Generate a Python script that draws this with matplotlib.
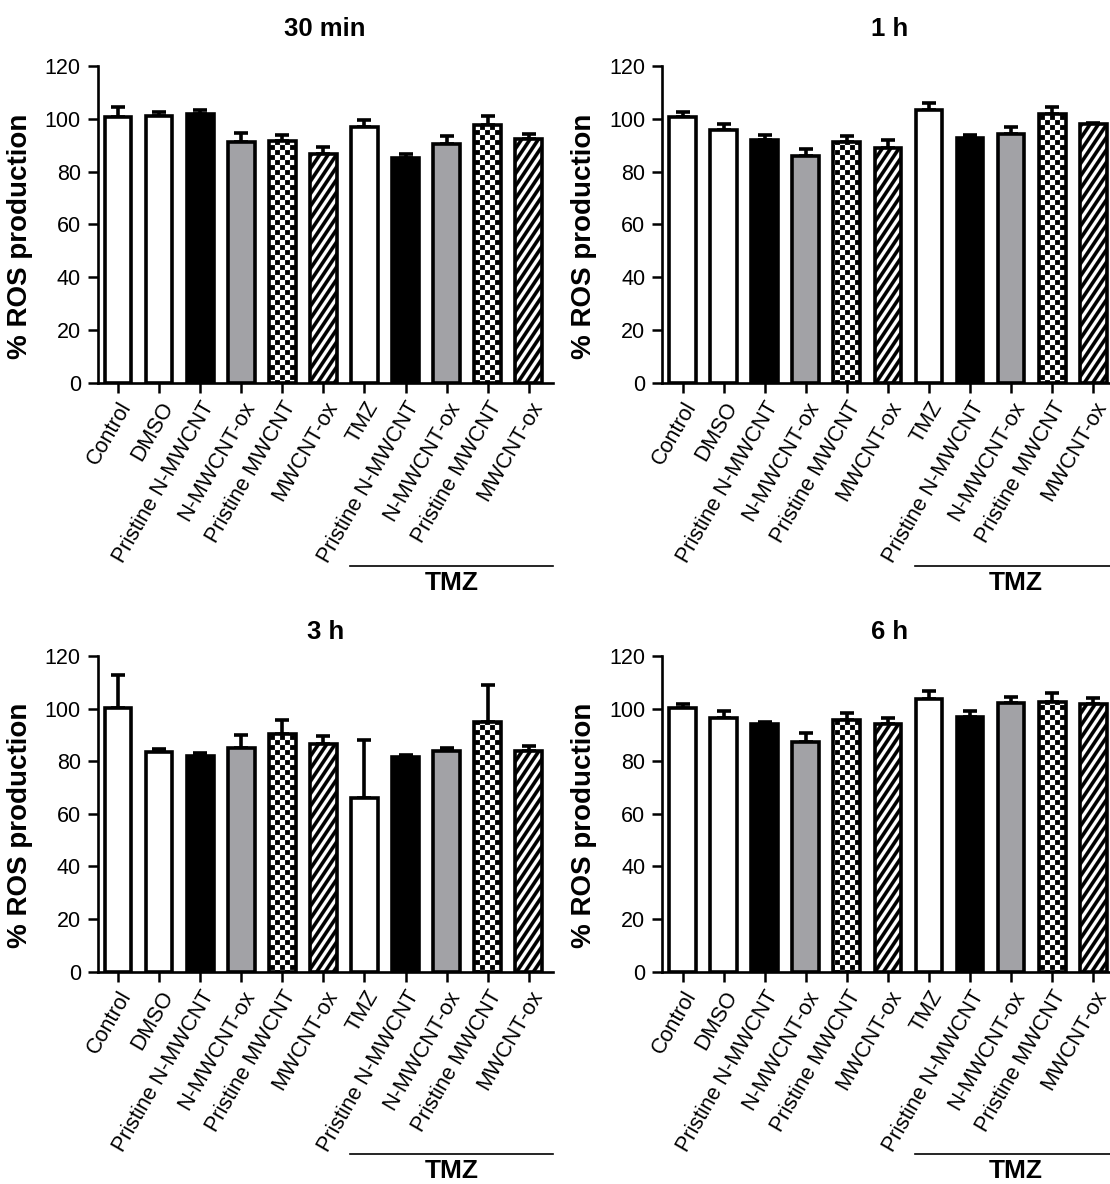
import numpy as np
import matplotlib
matplotlib.use("Agg")
import matplotlib.pyplot as plt
import matplotlib.hatch as mhatch
import matplotlib.transforms as mtransforms
from matplotlib.path import Path

# ---------------- data ----------------
categories = ["Control", "DMSO", "Pristine N-MWCNT", "N-MWCNT-ox", "Pristine MWCNT",
              "MWCNT-ox", "TMZ", "Pristine N-MWCNT", "N-MWCNT-ox", "Pristine MWCNT",
              "MWCNT-ox"]
panel_titles = ["30 min", "1 h", "3 h", "6 h"]

values_30min = [100.5, 101.2, 101.8, 91.1, 91.4, 86.8, 96.7, 85.1, 90.5, 97.7, 92.5]
err_30min = [4.0, 1.5, 1.7, 3.7, 2.3, 2.4, 2.7, 1.4, 2.8, 3.4, 1.8]

values_1h = [100.7, 95.7, 92.0, 86.0, 91.1, 89.0, 103.2, 92.9, 94.2, 101.9, 97.9]
err_1h = [1.9, 2.2, 1.7, 2.4, 2.2, 2.8, 2.8, 1.0, 2.5, 2.7, 0.4]

values_3h = [100.2, 83.5, 82.0, 85.0, 90.3, 86.4, 66.2, 81.6, 83.9, 94.8, 83.9]
err_3h = [12.6, 1.0, 1.1, 5.0, 5.3, 3.1, 22.0, 0.8, 1.3, 14.1, 1.9]

values_6h = [100.4, 96.5, 94.2, 87.3, 95.7, 94.1, 103.6, 97.0, 102.0, 102.7, 101.6]
err_6h = [1.5, 2.5, 0.6, 3.3, 2.6, 2.4, 3.1, 2.2, 2.4, 3.3, 2.5]

yticks = [0, 20, 40, 60, 80, 100, 120]
ylabel = "% ROS production"
group_label = "TMZ"
group_start = 5.65  # position (in category units) where the TMZ bracket starts

# ---------------- styles ----------------
GRAY = "#a2a2a6"
fills = ["white", "white", "black", GRAY, "white", "white",
         "white", "black", GRAY, "white", "white"]
hatches = [None, None, None, None, "*", "/", None, None, None, "*", "/"]


# custom hatch textures: '*' -> checkerboard, '/' -> steep stripes
class CheckerHatch(mhatch.HatchPatternBase):
    cells = 20

    def __init__(self, hatch, density):
        n = self.cells
        if hatch.count("*") > 0:
            self.squares = [(i, j) for i in range(n) for j in range(n) if (i + j) % 2 == 0]
        else:
            self.squares = []
        self.num_vertices = 5 * len(self.squares)

    def set_vertices_and_codes(self, vertices, codes):
        s = 1.0 / self.cells
        e = 0.001
        for k, (i, j) in enumerate(self.squares):
            x0, y0 = i * s + e, j * s + e
            x1, y1 = (i + 1) * s - e, (j + 1) * s - e
            vertices[5 * k:5 * k + 5] = [(x0, y0), (x1, y0), (x1, y1), (x0, y1), (x0, y0)]
            codes[5 * k:5 * k + 5] = [Path.MOVETO, Path.LINETO, Path.LINETO,
                                      Path.LINETO, Path.CLOSEPOLY]


class SteepStripeHatch(mhatch.HatchPatternBase):
    n = 8    # stripes per inch (vertical period)
    m = 12   # rise per inch of x, in periods

    def __init__(self, hatch, density):
        if hatch.count("/") > 0:
            self.offsets = np.arange(-self.m - 1, self.n + 1) / self.n
        else:
            self.offsets = []
        self.num_vertices = 5 * len(self.offsets)

    def set_vertices_and_codes(self, vertices, codes):
        s = self.m / self.n
        t = 0.5 / self.n
        for k, c in enumerate(self.offsets):
            vertices[5 * k:5 * k + 5] = [(0, c), (1, c + s), (1, c + s + t), (0, c + t), (0, c)]
            codes[5 * k:5 * k + 5] = [Path.MOVETO, Path.LINETO, Path.LINETO,
                                      Path.LINETO, Path.CLOSEPOLY]


new_types = []
for t in mhatch._hatch_types:
    if t is mhatch.Stars:
        new_types.append(CheckerHatch)
    elif t is mhatch.NorthEastHatch:
        new_types.append(SteepStripeHatch)
    else:
        new_types.append(t)
mhatch._hatch_types = new_types

plt.rcParams["font.family"] = ["Liberation Sans", "DejaVu Sans"]
plt.rcParams["hatch.linewidth"] = 0.1
plt.rcParams["hatch.color"] = "black"

W, H = 1110, 1184
DPI = 100
fig = plt.figure(figsize=(W / DPI, H / DPI), dpi=DPI)

# axes boxes in pixels: (left, y_of_zero, y_of_120)
ax_w_px = 455.5
boxes = [(97.5, 382.7, 66.0), (662, 382.7, 66.0), (97.5, 971.7, 656.0), (662, 971.7, 656.0)]
title_pads = [21.8, 21.8, 12.0, 12.0]

datasets = [(values_30min, err_30min), (values_1h, err_1h),
            (values_3h, err_3h), (values_6h, err_6h)]

x = np.arange(len(categories))
LW = 2.6
XMIN, XMAX = -0.5, 10.59

for (left, y0, y1), (vals, errs), title, tpad in zip(boxes, datasets, panel_titles, title_pads):
    ax = fig.add_axes([left / W, (H - y0) / H, ax_w_px / W, (y0 - y1) / H])
    ax.errorbar(x, vals, yerr=[np.zeros(len(errs)), errs], fmt="none", ecolor="black",
                elinewidth=LW, capsize=5.0, capthick=LW, zorder=1)
    bars = ax.bar(x, vals, width=0.65, color=fills, edgecolor="black", linewidth=LW, zorder=2)
    for b, h in zip(bars, hatches):
        if h:
            b.set_hatch(h)
    ax.set_xlim(XMIN, XMAX)
    ax.set_ylim(0, 120)
    ax.set_yticks(yticks)
    ax.set_xticks(x)
    ax.set_xticklabels(categories, rotation=60, ha="right", va="top",
                       rotation_mode="anchor", fontsize=15.5)
    ax.tick_params(axis="y", labelsize=15.5, pad=5)
    ax.tick_params(axis="x", pad=4)
    ax.tick_params(direction="out", length=7, width=1.8)
    for sp in ["top", "right"]:
        ax.spines[sp].set_visible(False)
    for sp in ["left", "bottom"]:
        ax.spines[sp].set_linewidth(1.9)
    ax.set_ylabel(ylabel, fontsize=20, fontweight="bold")
    ax.yaxis.set_label_coords(-0.142, 0.463)
    ax.set_title(title, fontsize=18.5, fontweight="bold", pad=tpad)

    # TMZ bracket below the rotated labels
    trans = mtransforms.blended_transform_factory(ax.transData, ax.transAxes)
    ax.plot([group_start, XMAX], [-0.578, -0.578], color="black", lw=1.2,
            transform=trans, clip_on=False)
    ax.text((group_start + XMAX) / 2, -0.632, group_label, transform=trans,
            ha="center", va="center", fontsize=19, fontweight="bold")

fig.savefig("out.png", dpi=DPI)
